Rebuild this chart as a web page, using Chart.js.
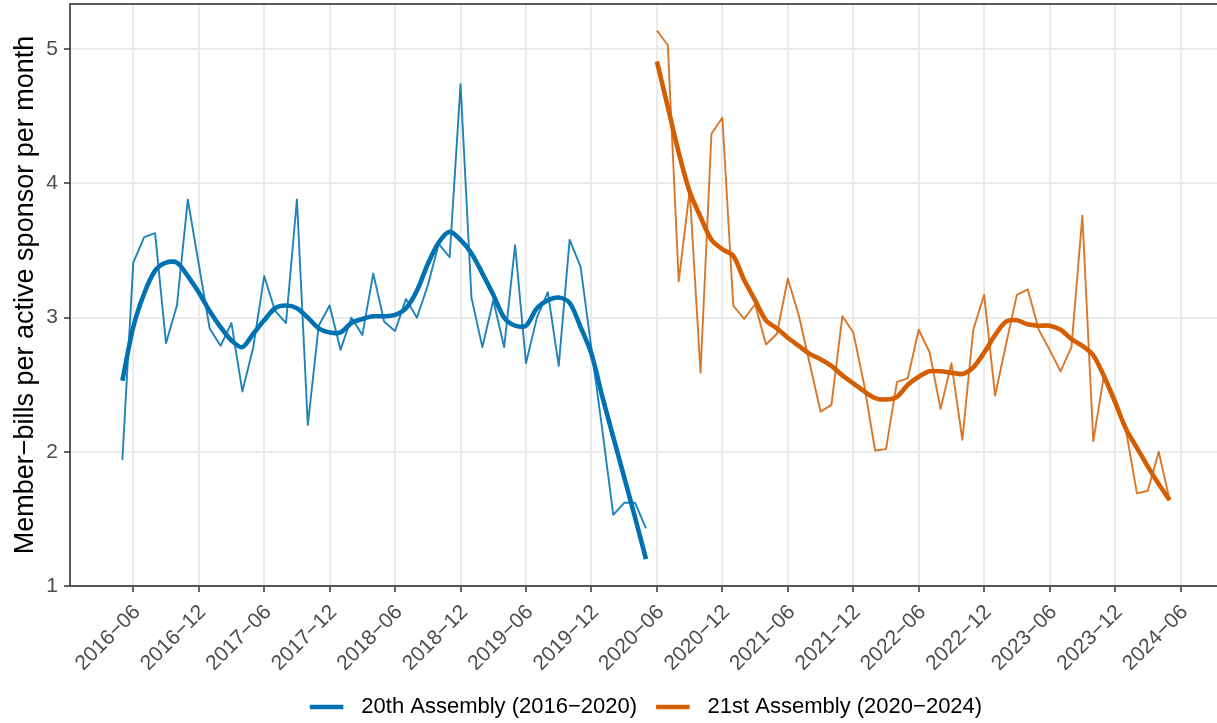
<!DOCTYPE html>
<html>
<head>
<meta charset="utf-8">
<script src="https://cdn.jsdelivr.net/npm/chart.js@4.4.1/dist/chart.umd.min.js"></script>
<style>
  html, body { margin: 0; padding: 0; background: #ffffff; overflow: hidden; width: 1217px; height: 723px; }
  canvas { display: block; }
</style>
</head>
<body>
<canvas id="chart" width="1232" height="723"></canvas>
<script>
// Months covered by each assembly (YYYY-MM)
const months20 = [
  '2016-05','2016-06','2016-07','2016-08','2016-09','2016-10','2016-11','2016-12',
  '2017-01','2017-02','2017-03','2017-04','2017-05','2017-06','2017-07','2017-08','2017-09','2017-10','2017-11','2017-12',
  '2018-01','2018-02','2018-03','2018-04','2018-05','2018-06','2018-07','2018-08','2018-09','2018-10','2018-11','2018-12',
  '2019-01','2019-02','2019-03','2019-04','2019-05','2019-06','2019-07','2019-08','2019-09','2019-10','2019-11','2019-12',
  '2020-01','2020-02','2020-03','2020-04','2020-05'
];
const months21 = [
  '2020-06','2020-07','2020-08','2020-09','2020-10','2020-11','2020-12',
  '2021-01','2021-02','2021-03','2021-04','2021-05','2021-06','2021-07','2021-08','2021-09','2021-10','2021-11','2021-12',
  '2022-01','2022-02','2022-03','2022-04','2022-05','2022-06','2022-07','2022-08','2022-09','2022-10','2022-11','2022-12',
  '2023-01','2023-02','2023-03','2023-04','2023-05','2023-06','2023-07','2023-08','2023-09','2023-10','2023-11','2023-12',
  '2024-01','2024-02','2024-03','2024-04','2024-05'
];

// Member-bills per active sponsor, monthly
const bills20Monthly = [
  1.94, 3.41, 3.60, 3.63, 2.81, 3.09, 3.88, 3.40,
  2.92, 2.79, 2.96, 2.45, 2.78, 3.31, 3.05, 2.96, 3.88, 2.20, 2.94, 3.09,
  2.76, 3.00, 2.87, 3.33, 2.97, 2.90, 3.14, 3.00, 3.24, 3.55, 3.45, 4.74,
  3.15, 2.78, 3.13, 2.78, 3.54, 2.66, 3.00, 3.19, 2.64, 3.58, 3.38, 2.77,
  2.16, 1.53, 1.62, 1.62, 1.43
];
const bills21Monthly = [
  5.14, 5.03, 3.27, 3.95, 2.59, 4.37, 4.49,
  3.09, 2.99, 3.10, 2.80, 2.88, 3.29, 3.02, 2.66, 2.30, 2.35, 3.01, 2.89,
  2.50, 2.01, 2.02, 2.52, 2.55, 2.91, 2.74, 2.32, 2.66, 2.09, 2.91, 3.17,
  2.42, 2.80, 3.17, 3.21, 2.91, 2.76, 2.60, 2.78, 3.76, 2.08, 2.58, 2.40,
  2.16, 1.69, 1.71, 2.00, 1.64
];

// Smoothed trend for each assembly
const bills20Smooth = [
  2.53, 2.93, 3.18, 3.35, 3.41, 3.41, 3.31, 3.19,
  3.05, 2.93, 2.83, 2.78, 2.88, 2.98, 3.07, 3.09, 3.07, 3.00, 2.92, 2.89,
  2.89, 2.96, 2.99, 3.01, 3.01, 3.02, 3.07, 3.20, 3.40, 3.56, 3.64, 3.58,
  3.48, 3.33, 3.17, 3.00, 2.94, 2.94, 3.07, 3.13, 3.15, 3.11, 2.93, 2.73,
  2.41, 2.11, 1.81, 1.51, 1.20
];
const bills21Smooth = [
  4.91, 4.57, 4.23, 3.94, 3.75, 3.58, 3.51,
  3.46, 3.28, 3.13, 2.98, 2.92, 2.85, 2.79, 2.73, 2.69, 2.64, 2.57, 2.51,
  2.45, 2.40, 2.39, 2.41, 2.50, 2.56, 2.60, 2.60, 2.59, 2.58, 2.63, 2.74,
  2.87, 2.97, 2.98, 2.95, 2.94, 2.94, 2.91, 2.84, 2.79, 2.72, 2.56, 2.37,
  2.17, 2.03, 1.89, 1.76, 1.64
];

// Axis ticks
const xTickLabels = [
  '2016-06','2016-12','2017-06','2017-12','2018-06','2018-12','2019-06','2019-12',
  '2020-06','2020-12','2021-06','2021-12','2022-06','2022-12','2023-06','2023-12','2024-06'
];
const yTickValues = [1, 2, 3, 4, 5];

const seriesNames = ['20th Assembly (2016\u22122020)', '21st Assembly (2020\u22122024)'];
const yTitle = 'Member\u2212bills per active sponsor per month';

const BLUE = '#0072B2';
const ORANGE = '#D55E00';
const FONT = '"Liberation Sans", Arial, Helvetica, sans-serif';

// Months since 2016-01
function monthIndex(s) {
  const parts = s.split('-').map(Number);
  return (parts[0] - 2016) * 12 + (parts[1] - 1);
}
function toPoints(months, values) {
  return months.map((m, i) => ({ x: monthIndex(m), y: values[i] }));
}

const firstMonth = monthIndex(months20[0]);
const lastMonth = monthIndex(months21[months21.length - 1]);
const pad = (lastMonth - firstMonth) * 0.05;

// Box around the plotting panel, drawn over the lines
const panelBorder = {
  id: 'panelBorder',
  afterDatasetsDraw(chart) {
    const { ctx, chartArea: a } = chart;
    ctx.save();
    ctx.strokeStyle = '#333333';
    ctx.lineWidth = 1.6;
    ctx.strokeRect(a.left, a.top, a.right - a.left, a.bottom - a.top);
    ctx.restore();
  }
};

// Line-key legend centred under the panel
const lineKey = {
  id: 'lineKey',
  afterDraw(chart) {
    const { ctx, chartArea: a } = chart;
    const items = chart.data.datasets.filter(d => d.keyEntry);
    const swatch = 33.5, gapText = 18, gapItem = 19;
    ctx.save();
    ctx.font = '22px ' + FONT;
    const widths = items.map(d => ctx.measureText(d.label).width);
    let total = 0;
    items.forEach((d, i) => { total += swatch + gapText + widths[i]; if (i < items.length - 1) total += gapItem; });
    let x = (a.left + a.right) / 2 - total / 2;
    const y = 707;
    items.forEach((d, i) => {
      ctx.strokeStyle = d.borderColor;
      ctx.lineWidth = 4.6;
      ctx.lineCap = 'butt';
      ctx.beginPath();
      ctx.moveTo(x, y);
      ctx.lineTo(x + swatch, y);
      ctx.stroke();
      x += swatch + gapText;
      ctx.fillStyle = '#000000';
      ctx.textBaseline = 'middle';
      ctx.textAlign = 'left';
      ctx.fillText(d.label, x, y);
      x += widths[i] + gapItem;
    });
    ctx.restore();
  }
};

const thick = { pointRadius: 0, borderWidth: 4.6, tension: 0.3, borderCapStyle: 'butt', borderJoinStyle: 'round', fill: false };
const thin = { pointRadius: 0, borderWidth: 1.9, tension: 0, borderCapStyle: 'butt', borderJoinStyle: 'round', fill: false };

new Chart(document.getElementById('chart'), {
  type: 'line',
  data: {
    datasets: [
      Object.assign({ label: seriesNames[0], data: toPoints(months20, bills20Smooth), borderColor: BLUE, keyEntry: true }, thick),
      Object.assign({ label: seriesNames[1], data: toPoints(months21, bills21Smooth), borderColor: ORANGE, keyEntry: true }, thick),
      Object.assign({ label: seriesNames[0] + ' monthly', data: toPoints(months20, bills20Monthly), borderColor: 'rgba(0,114,178,0.88)' }, thin),
      Object.assign({ label: seriesNames[1] + ' monthly', data: toPoints(months21, bills21Monthly), borderColor: 'rgba(213,94,0,0.85)' }, thin)
    ]
  },
  options: {
    responsive: false,
    animation: false,
    layout: { padding: { top: 4, right: 10, bottom: 0, left: 0 } },
    plugins: { legend: { display: false }, tooltip: { enabled: false } },
    scales: {
      x: {
        type: 'linear',
        min: firstMonth - pad,
        max: lastMonth + pad,
        afterBuildTicks: s => { s.ticks = xTickLabels.map(l => ({ value: monthIndex(l) })); },
        afterFit: s => { s.height = 137; s.paddingLeft = 0; s.paddingRight = 0; },
        ticks: {
          autoSkip: false,
          minRotation: 45,
          maxRotation: 45,
          padding: 8,
          labelOffset: 4,
          color: '#4D4D4D',
          font: { family: FONT, size: 21 },
          callback: (v, i) => xTickLabels[i].replace('-', '\u2212')
        },
        grid: { color: '#EBEBEB', lineWidth: 2, tickLength: 6, tickColor: '#333333', tickWidth: 1.5 },
        border: { display: false }
      },
      y: {
        type: 'linear',
        min: 1,
        max: 5.3376,
        afterBuildTicks: s => { s.ticks = yTickValues.map(v => ({ value: v })); },
        afterFit: s => { s.width = 70; s.paddingTop = 0; s.paddingBottom = 0; },
        ticks: {
          padding: 6,
          color: '#4D4D4D',
          font: { family: FONT, size: 21 },
          callback: v => String(v)
        },
        grid: { color: '#EBEBEB', lineWidth: 2, tickLength: 6, tickColor: '#333333', tickWidth: 1.5 },
        border: { display: false },
        title: {
          display: true,
          text: yTitle,
          color: '#000000',
          font: { family: FONT, size: 27 },
          padding: { top: 9, bottom: 0 }
        }
      }
    }
  },
  plugins: [panelBorder, lineKey]
});
</script>
</body>
</html>
